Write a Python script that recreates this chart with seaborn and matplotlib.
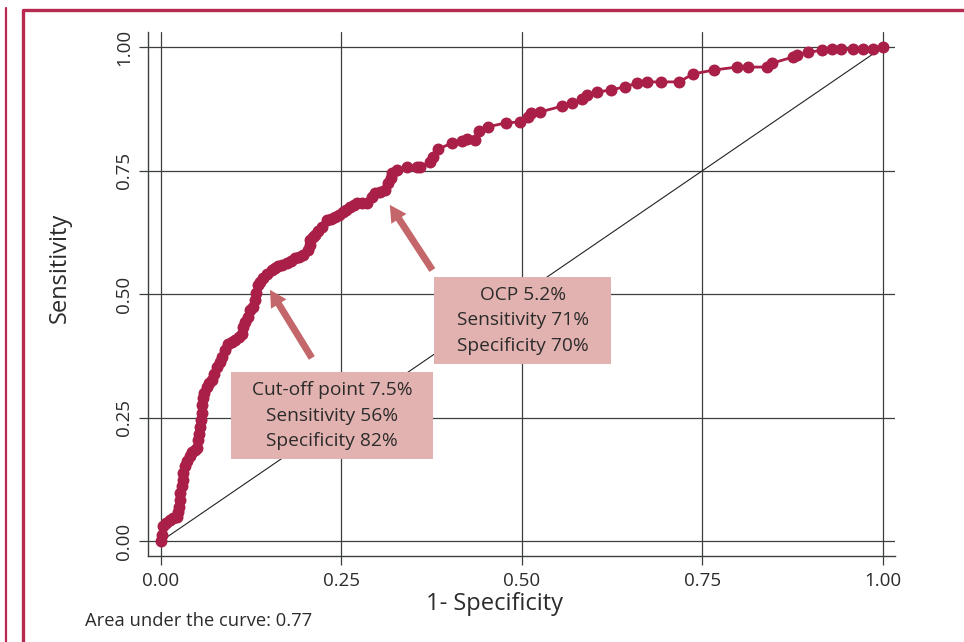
import matplotlib
matplotlib.use("Agg")
import matplotlib.pyplot as plt
import seaborn as sns
import pandas as pd
from matplotlib.patches import Rectangle
from matplotlib.lines import Line2D

# ROC curve points (1 - specificity, sensitivity)
fpr = [0.000, 0.001, 0.003, 0.007, 0.012, 0.017, 0.022, 0.024, 0.025, 0.026,
       0.027, 0.029, 0.030, 0.031, 0.033, 0.036, 0.040, 0.043, 0.047, 0.050,
       0.051, 0.053, 0.054, 0.056, 0.057, 0.057, 0.058, 0.060, 0.064, 0.067,
       0.070, 0.074, 0.078, 0.082, 0.085, 0.089, 0.093, 0.098, 0.103, 0.108,
       0.112, 0.114, 0.117, 0.120, 0.124, 0.127, 0.130, 0.132, 0.134, 0.137,
       0.141, 0.147, 0.154, 0.158, 0.162, 0.168, 0.175, 0.180, 0.186, 0.191,
       0.197, 0.204, 0.206, 0.207, 0.210, 0.213, 0.218, 0.223, 0.230, 0.236,
       0.241, 0.247, 0.252, 0.257, 0.262, 0.267, 0.272, 0.278, 0.285, 0.292,
       0.297, 0.303, 0.310, 0.315, 0.318, 0.320, 0.327, 0.341, 0.355, 0.359,
       0.373, 0.377, 0.384, 0.403, 0.417, 0.424, 0.435, 0.441, 0.453, 0.478,
       0.498, 0.509, 0.513, 0.525, 0.556, 0.570, 0.583, 0.590, 0.604, 0.624,
       0.643, 0.660, 0.674, 0.693, 0.718, 0.737, 0.766, 0.798, 0.814, 0.840,
       0.847, 0.875, 0.881, 0.897, 0.916, 0.930, 0.942, 0.959, 0.973, 0.987,
       1.000]
tpr = [0.000, 0.012, 0.030, 0.036, 0.043, 0.046, 0.049, 0.060, 0.069, 0.083,
       0.097, 0.111, 0.124, 0.138, 0.152, 0.162, 0.172, 0.180, 0.185, 0.188,
       0.205, 0.218, 0.231, 0.245, 0.260, 0.275, 0.290, 0.300, 0.312, 0.320,
       0.326, 0.339, 0.352, 0.362, 0.373, 0.387, 0.400, 0.403, 0.407, 0.414,
       0.420, 0.434, 0.444, 0.454, 0.468, 0.474, 0.488, 0.502, 0.518, 0.525,
       0.532, 0.541, 0.549, 0.553, 0.557, 0.559, 0.563, 0.568, 0.573, 0.576,
       0.579, 0.589, 0.600, 0.610, 0.615, 0.620, 0.628, 0.636, 0.650, 0.653,
       0.656, 0.661, 0.666, 0.671, 0.677, 0.681, 0.685, 0.684, 0.685, 0.697,
       0.705, 0.708, 0.711, 0.725, 0.735, 0.745, 0.751, 0.758, 0.758, 0.758,
       0.768, 0.778, 0.794, 0.806, 0.810, 0.814, 0.812, 0.830, 0.839, 0.847,
       0.849, 0.859, 0.867, 0.869, 0.881, 0.887, 0.895, 0.903, 0.909, 0.914,
       0.920, 0.928, 0.930, 0.930, 0.930, 0.946, 0.954, 0.960, 0.960, 0.960,
       0.968, 0.980, 0.984, 0.990, 0.994, 0.996, 0.996, 0.996, 0.996, 0.996,
       1.000]

ticks = [0.0, 0.25, 0.5, 0.75, 1.0]
tick_labels = ["0.00", "0.25", "0.50", "0.75", "1.00"]

box_cutoff = "Cut-off point 7.5%\nSensitivity 56%\nSpecificity 82%"
box_ocp = "OCP 5.2%\nSensitivity 71%\nSpecificity 70%"
auc_text = "Area under the curve: 0.77"

curve_color = "#A91F47"
frame_color = "#B8294F"
box_color = "#E2B2B0"
arrow_color = "#C4676A"
text_color = "#2b2b2b"
grid_color = "#3c3f41"

sns.set_theme(style="white")
plt.rcParams['font.family'] = ['Open Sans', 'DejaVu Sans']

df = pd.DataFrame({'fpr': fpr, 'tpr': tpr})

fig = plt.figure(figsize=(9.64, 6.42), dpi=100)
ax = fig.add_axes([148 / 964, 1 - 556 / 642, (895 - 148) / 964, (556 - 32) / 642])

ax.set_xlim(-0.018, 1.017)
ax.set_ylim(-0.030, 1.031)

# grid
ax.set_axisbelow(True)
for t in ticks:
    ax.axvline(t, color=grid_color, lw=0.9, zorder=0)
    ax.axhline(t, color=grid_color, lw=0.9, zorder=0)

# reference diagonal
ax.plot([0, 1], [0, 1], color="#222222", lw=0.8, zorder=1)

# ROC curve
sns.lineplot(data=df, x='fpr', y='tpr', sort=False, estimator=None,
             color=curve_color, lw=2.0, marker='o', markersize=8.6,
             markeredgewidth=0, ax=ax, zorder=4)

# annotation boxes
ax.add_patch(Rectangle((0.097, 0.166), 0.280, 0.176, facecolor=box_color,
                       edgecolor='none', zorder=3))
ax.text(0.237, 0.254, box_cutoff, ha='center', va='center', fontsize=13.8,
        color=text_color, linespacing=1.55, zorder=5)
ax.add_patch(Rectangle((0.378, 0.359), 0.246, 0.176, facecolor=box_color,
                       edgecolor='none', zorder=3))
ax.text(0.501, 0.447, box_ocp, ha='center', va='center', fontsize=13.8,
        color=text_color, linespacing=1.55, zorder=5)

arrowprops = dict(width=5, headwidth=13, headlength=12,
                  facecolor=arrow_color, edgecolor='none')
ax.annotate('', xy=(0.151, 0.509), xytext=(0.209, 0.371),
            arrowprops=arrowprops, zorder=5)
ax.annotate('', xy=(0.317, 0.681), xytext=(0.376, 0.549),
            arrowprops=arrowprops, zorder=5)

# axes styling
sns.despine(ax=ax)
for side in ['left', 'bottom']:
    ax.spines[side].set_color(grid_color)
    ax.spines[side].set_linewidth(1.0)

ax.set_xticks(ticks)
ax.set_xticklabels(tick_labels)
ax.set_yticks(ticks)
ax.set_yticklabels(tick_labels, rotation=90, va='center')
ax.tick_params(axis='both', which='both', direction='out', length=6.5,
               width=0.9, color=grid_color, labelsize=13.5, labelcolor=text_color,
               left=True, bottom=True)
ax.tick_params(axis='y', pad=4)
ax.tick_params(axis='x', pad=5)

ax.set_xlabel("1- Specificity", fontsize=17, color=text_color)
ax.set_ylabel("Sensitivity", fontsize=17, color=text_color)
ax.xaxis.set_label_coords((495 - 148) / 747, (556 - 604) / 524)
ax.xaxis.label.set_va('center')
ax.yaxis.set_label_coords((60 - 148) / 747, (556 - 268) / 524)
ax.yaxis.label.set_va('center')

fig.text(85 / 964, 1 - 621 / 642, auc_text, ha='left', va='center',
         fontsize=13.2, color=text_color)

# red frame around the figure
fig.add_artist(Line2D([23 / 964, 23 / 964, 1.01], [-0.01, 1 - 10 / 642, 1 - 10 / 642],
                      transform=fig.transFigure, color=frame_color, lw=2.4))
fig.add_artist(Line2D([6 / 964, 6 / 964], [-0.01, 1 - 8 / 642],
                      transform=fig.transFigure, color=frame_color, lw=1.6))

fig.savefig("out.png", dpi=100)
